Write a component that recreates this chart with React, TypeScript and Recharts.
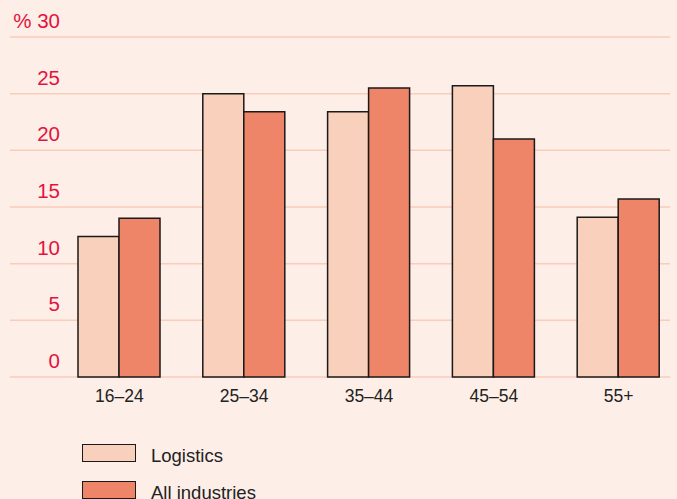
import { Bar, BarChart, CartesianGrid, Legend, XAxis, YAxis } from "recharts";

const AGE_GROUPS = ["16–24", "25–34", "35–44", "45–54", "55+"];
const LOGISTICS = [12.4, 25.0, 23.4, 25.7, 14.1];
const ALL_INDUSTRIES = [14.0, 23.4, 25.5, 21.0, 15.7];
const Y_TICKS = [0, 5, 10, 15, 20, 25, 30];
const SERIES_ORDER = ["logistics", "all"];

const BG = "#fdeee7";
const LOGISTICS_FILL = "#f9d0bb";
const ALL_FILL = "#ee8468";
const GRID = "#f8cdba";
const RED = "#e3133d";
const FONT = "'Liberation Sans', Arial, Helvetica, sans-serif";

const data = AGE_GROUPS.map((group, i) => ({
  group,
  logistics: LOGISTICS[i],
  all: ALL_INDUSTRIES[i],
}));

function YTick(props: any) {
  const { y, payload } = props;
  const label = payload.value === 30 ? "% 30" : String(payload.value);
  return (
    <text x={60} y={y - 9} textAnchor="end" fill={RED} fontSize={20.5} fontFamily={FONT}>
      {label}
    </text>
  );
}

function XTick(props: any) {
  const { x, y, payload } = props;
  return (
    <text x={x} y={y + 17} textAnchor="middle" fill="#222" fontSize={17.5} fontFamily={FONT}>
      {payload.value}
    </text>
  );
}

function LegendBox({ payload }: any) {
  const items = [...(payload || [])].sort(
    (a: any, b: any) => SERIES_ORDER.indexOf(a.dataKey) - SERIES_ORDER.indexOf(b.dataKey),
  );
  return (
    <div style={{ fontFamily: FONT, fontSize: 18.5, color: "#222" }}>
      {items.map((p: any) => (
        <div key={p.value} style={{ display: "flex", alignItems: "center", height: 37 }}>
          <span
            style={{
              display: "inline-block",
              width: 52,
              height: 16,
              background: p.color,
              border: "1.5px solid #1a1a1a",
              marginRight: 15,
            }}
          />
          <span style={{ position: "relative", top: 3 }}>{p.value}</span>
        </div>
      ))}
    </div>
  );
}

export default function App() {
  return (
    <div style={{ position: "absolute", left: 0, top: 0, width: 677, height: 499, background: BG, overflow: "hidden" }}>
      <BarChart
        width={677}
        height={499}
        data={data}
        margin={{ top: 37, right: 7, bottom: 92, left: 10 }}
        barCategoryGap={21}
        barGap={0}
      >
        <CartesianGrid vertical={false} stroke={GRID} strokeWidth={1.5} />
        <XAxis
          dataKey="group"
          axisLine={false}
          tickLine={false}
          height={30}
          padding={{ left: 47, right: -11 }}
          tick={<XTick />}
          interval={0}
        />
        <YAxis
          domain={[0, 30]}
          ticks={Y_TICKS}
          mirror
          axisLine={false}
          tickLine={false}
          tick={<YTick />}
        />
        <Legend
          layout="vertical"
          align="center"
          verticalAlign="middle"
          wrapperStyle={{ left: 82, top: 434, width: 300, height: 70 }}
          content={<LegendBox />}
        />
        <Bar dataKey="logistics" name="Logistics" fill={LOGISTICS_FILL} stroke="#1a1a1a" strokeWidth={1.5} isAnimationActive={false} />
        <Bar dataKey="all" name="All industries" fill={ALL_FILL} stroke="#1a1a1a" strokeWidth={1.5} isAnimationActive={false} />
      </BarChart>
    </div>
  );
}
